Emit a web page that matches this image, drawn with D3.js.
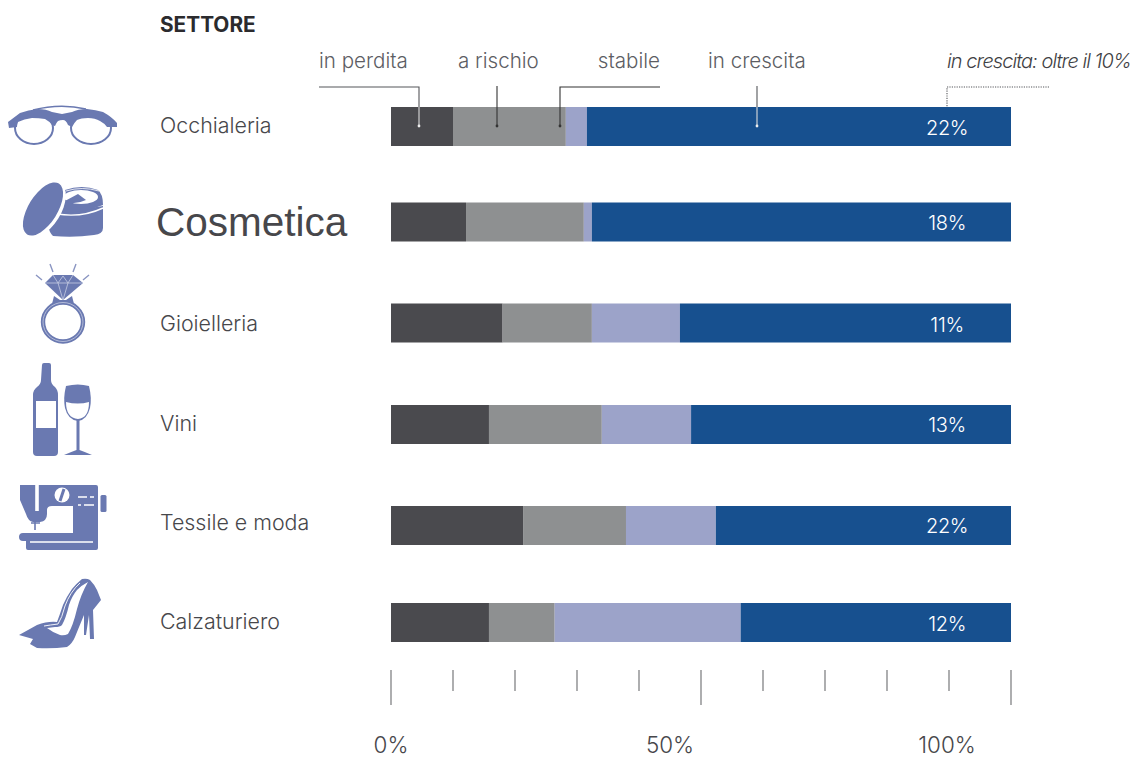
<!DOCTYPE html>
<html lang="it">
  <head>
    <meta charset="UTF-8" />
    <title>Settore</title>
    <script src="https://d3js.org/d3.v7.min.js"></script>
    <style>
      body {
        margin: 0;
        background: #fff;
      }
      text {
        font-family: Inter, Roboto, sans-serif;
        fill: #47474b;
      }
      .leader {
        fill: none;
        stroke: #55565a;
        stroke-width: 1.1px;
      }
      .icon {
        fill: #6a79b1;
      }
      .icon-cut {
        fill: #fff;
      }
      .icon-line {
        fill: none;
        stroke: #6a79b1;
      }
      .icon-white {
        fill: none;
        stroke: #fff;
      }
    </style>
  </head>

  <body>
    <svg id="chart" width="1135" height="757"></svg>
    <script>
      const sectors = ["Occhialeria", "Cosmetica", "Gioielleria", "Vini", "Tessile e moda", "Calzaturiero"];
      const statuses = ["in perdita", "a rischio", "stabile", "in crescita"];
      const inPerdita = [10, 12.1, 18, 15.8, 21.3, 15.8];
      const aRischio = [18.2, 19, 14.4, 18.2, 16.6, 10.6];
      const stabile = [3.4, 1.3, 14.2, 14.4, 14.5, 30];
      const inCrescita = [68.4, 67.6, 53.4, 51.6, 47.6, 43.6];
      const oltreDieci = ["22%", "18%", "11%", "13%", "22%", "12%"];
      const tickValues = [0, 10, 20, 30, 40, 50, 60, 70, 80, 90, 100];
      const tickLabels = ["0%", "50%", "100%"];

      const svg = d3.select("#chart");

      const xScale = d3.scaleLinear().domain([0, 100]).range([391, 1011]);

      // rows are not evenly spaced in the original
      const rowScale = d3
        .scaleOrdinal()
        .domain(sectors)
        .range([126.5, 222, 323, 424.5, 525.5, 622.5]);

      // labels drift a little from their bars
      const labelRowScale = d3
        .scaleOrdinal()
        .domain(sectors)
        .range([127, 221, 325, 425, 523.5, 623]);

      const valueRowScale = d3
        .scaleOrdinal()
        .domain(sectors)
        .range([127.5, 223, 325, 424.5, 526, 623.5]);

      // the axis labels sit off their ticks in the original
      const tickLabelScale = d3
        .scaleOrdinal()
        .domain(tickLabels)
        .range([391, 670, 947]);

      const colorScale = d3
        .scaleOrdinal()
        .domain(statuses)
        .range(["#4a4a4e", "#8e9091", "#9ca3c9", "#17508f"]);

      const barHeight = 39;

      const rows = sectors.map((sector, i) => {
        const values = [inPerdita[i], aRischio[i], stabile[i], inCrescita[i]];
        let start = 0;
        return {
          sector: sector,
          segments: values.map((v, j) => {
            const seg = { status: statuses[j], start: start, end: start + v };
            start += v;
            return seg;
          }),
        };
      });

      // bars
      svg
        .append("g")
        .selectAll("g")
        .data(rows)
        .enter()
        .append("g")
        .selectAll("rect")
        .data((d) => d.segments.map((s) => ({ ...s, sector: d.sector })))
        .enter()
        .append("rect")
        .attr("x", (d) => xScale(d.start))
        .attr("y", (d) => rowScale(d.sector) - barHeight / 2)
        .attr("width", (d) => xScale(d.end) - xScale(d.start))
        .attr("height", barHeight)
        .attr("fill", (d) => colorScale(d.status));

      // sector labels, Cosmetica was pasted over in another font
      svg
        .append("g")
        .selectAll("text")
        .data(sectors)
        .enter()
        .append("text")
        .attr("x", (d) => (d === "Cosmetica" ? 156 : 160))
        .attr("y", (d) => labelRowScale(d))
        .attr("dy", (d) => (d === "Cosmetica" ? "0.36em" : "0.3em"))
        .style("font-size", (d) => (d === "Cosmetica" ? "40.5px" : "21.4px"))
        .style("font-family", (d) => (d === "Cosmetica" ? "'Liberation Sans'" : null))
        .style("font-weight", 300)
        .text((d) => d);

      svg
        .append("text")
        .attr("x", 160)
        .attr("y", 32)
        .style("font-size", "20.8px")
        .style("font-weight", 700)
        .style("fill", "#2b2b2e")
        .text("SETTORE");

      // values inside the blue segment
      svg
        .append("g")
        .selectAll("text")
        .data(oltreDieci)
        .enter()
        .append("text")
        .attr("x", xScale(89.7))
        .attr("y", (d, i) => valueRowScale(sectors[i]))
        .attr("dy", "0.36em")
        .attr("text-anchor", "middle")
        .style("font-size", "20px")
        .style("font-weight", 300)
        .style("letter-spacing", "-0.3px")
        .style("fill", "#fff")
        .text((d) => d);

      // legend on top of the first bar
      const legendX = d3
        .scaleOrdinal()
        .domain(statuses)
        .range([319, 458, 660, 708]);

      svg
        .append("g")
        .selectAll("text")
        .data(statuses)
        .enter()
        .append("text")
        .attr("x", (d) => legendX(d))
        .attr("y", 68)
        .attr("text-anchor", (d) => (d === "stabile" ? "end" : "start"))
        .style("font-size", "20.6px")
        .style("font-weight", 300)
        .style("fill", "#5c5d63")
        .text((d) => d);

      const leaders = svg.append("g").attr("class", "leaders");
      leaders.append("path").attr("class", "leader").attr("d", "M319,87H419V107");
      leaders.append("path").attr("class", "leader").attr("d", "M419,107V126").style("stroke", "#ddd");
      leaders.append("path").attr("class", "leader").attr("d", "M497,86V126").style("stroke", "#333");
      leaders.append("path").attr("class", "leader").attr("d", "M660,87H560V126").style("stroke", "#333");
      leaders.append("path").attr("class", "leader").attr("d", "M757,86V107");
      leaders.append("path").attr("class", "leader").attr("d", "M757,107V126").style("stroke", "#ddd");
      leaders
        .append("path")
        .attr("class", "leader")
        .attr("d", "M1049,87H947V107")
        .style("stroke-dasharray", "1.2 1.2");
      leaders
        .selectAll("circle")
        .data([[419, "#eee"], [497, "#333"], [560, "#333"], [757, "#eee"]])
        .enter()
        .append("circle")
        .attr("cx", (d) => d[0])
        .attr("cy", 126)
        .attr("r", 1.4)
        .attr("fill", (d) => d[1]);

      svg
        .append("text")
        .attr("x", 947)
        .attr("y", 68)
        .style("font-size", "20px")
        .style("font-weight", 300)
        .style("font-style", "italic")
        .style("letter-spacing", "-0.95px")
        .style("fill", "#3f3f44")
        .text("in crescita: oltre il 10%");

      // axis ticks
      svg
        .append("g")
        .selectAll("line")
        .data(tickValues)
        .enter()
        .append("line")
        .attr("x1", (d) => xScale(d))
        .attr("x2", (d) => xScale(d))
        .attr("y1", 670)
        .attr("y2", (d) => (d % 50 === 0 ? 705 : 691))
        .attr("stroke", "#77787b")
        .attr("stroke-width", 1.2);

      svg
        .append("g")
        .selectAll("text")
        .data(tickLabels)
        .enter()
        .append("text")
        .attr("x", (d) => tickLabelScale(d))
        .attr("y", 753)
        .attr("text-anchor", "middle")
        .style("font-size", "22.4px")
        .style("font-weight", 300)
        .text((d) => d);

      // icons
      const icons = svg.append("g");

      // glasses
      icons.append("ellipse").attr("class", "icon-line").attr("cx", 34).attr("cy", 128).attr("rx", 19).attr("ry", 16).attr("stroke-width", 2);
      icons.append("ellipse").attr("class", "icon-line").attr("cx", 91).attr("cy", 128).attr("rx", 20).attr("ry", 16).attr("stroke-width", 2);
      icons
        .append("path")
        .attr("class", "icon")
        .attr(
          "d",
          "M8,122L20,113Q28,110 38,109Q46,109 52,112L62,114L72,112Q78,109 87,109Q96,110 103,112Q112,117 117,123V127H107Q104,123 100,121Q95,118 88,118Q81,118 77,120Q74,123 72,127L68,125Q66,120 63,120Q60,120 58,121Q56,123 55,126L52,125Q49,121 45,119Q39,118 32,118Q24,119 18,122Q17,125 17,127L9,128Z"
        );
      icons.append("path").attr("class", "icon-line").attr("d", "M33,110Q60,103 86,109").attr("stroke-width", 1.5);

      // cosmetic jar
      icons.append("path").attr("class", "icon").attr("d", "M50,214L103,206V228Q103,234 94,235Q74,238 53,236Q46,230 50,214Z");
      icons.append("path").attr("class", "icon").attr("d", "M65,190Q82,184 98,190Q103,194 103,205Q84,213 60,213Z");
      icons.append("ellipse").attr("class", "icon-cut").attr("cx", 81).attr("cy", 197).attr("rx", 17).attr("ry", 7);
      icons.append("path").attr("class", "icon").attr("d", "M63,202L78,194L86,200Q76,205 63,202Z");
      icons.append("path").attr("class", "icon-white").attr("d", "M57,214Q82,218 103,208").attr("stroke-width", 1.4);
      icons.append("path").attr("class", "icon-white").attr("d", "M66,191Q82,186 99,191").attr("stroke-width", 0.8);
      icons.append("ellipse").attr("class", "icon-cut").attr("cx", 43).attr("cy", 209).attr("rx", 18).attr("ry", 32).attr("transform", "rotate(32 43 209)");
      icons.append("ellipse").attr("class", "icon").attr("cx", 43).attr("cy", 209).attr("rx", 14.5).attr("ry", 30).attr("transform", "rotate(32 43 209)");

      // ring
      icons.append("path").attr("class", "icon").attr("d", "M53,275H73L83,283L63,300L45,283Z");
      icons.append("path").attr("class", "icon-white").attr("d", "M45,283H83M53,275L58,283L63,300L68,283L73,275M58,283L63,276L68,283").style("stroke", "#c5cbe2").attr("stroke-width", 0.8);
      icons.append("path").attr("class", "icon-line").attr("d", "M50,264L53,272M76,264L73,272M36,275L42,280M89,275L83,280").attr("stroke-width", 1.4).style("stroke", "#8a95c2");
      icons.append("path").attr("class", "icon").attr("d", "M54,296L60,300H66L72,296L74,304H52Z");
      icons.append("ellipse").attr("class", "icon-line").attr("cx", 63).attr("cy", 322).attr("rx", 20).attr("ry", 19.5).attr("stroke-width", 4.4);
      icons.append("ellipse").attr("class", "icon-white").attr("cx", 63).attr("cy", 322).attr("rx", 20).attr("ry", 19.5).style("stroke", "#c5cbe2").attr("stroke-width", 0.8);

      // bottle and glass
      icons
        .append("path")
        .attr("class", "icon")
        .attr("d", "M42,365Q42,363 44,363H49Q51,363 51,365V380Q51,384 55,387Q58,390 58,395V452Q58,456 54,456H37Q33,456 33,452V395Q33,390 37,387Q41,384 41,380Z");
      icons.append("rect").attr("class", "icon-cut").attr("x", 36).attr("y", 401).attr("width", 20).attr("height", 27);
      icons.append("path").attr("class", "icon").attr("d", "M66,386Q78,383 89,386Q92,398 90,408Q87,420 78,421Q68,420 65,408Q63,398 66,386Z");
      icons.append("path").attr("class", "icon-cut").attr("d", "M66,402Q78,405 89,402Q89,418 78,419Q66,418 66,402Z");
      icons.append("path").attr("class", "icon").attr("d", "M76.5,420H79.5V450Q85,452 92,455H64Q71,452 76.5,450Z");

      // sewing machine
      icons
        .append("path")
        .attr("class", "icon")
        .attr(
          "d",
          "M20,485H96Q98,485 98,487V548Q98,550 96,550H28Q26,550 26,548V541H23Q19,541 19,537Q19,533 23,533H73V506H52Q47,506 47,510V514Q47,521 40,522H33Q28,521 26,514L20,500Z"
        );
      icons.append("rect").attr("class", "icon").attr("x", 100.5).attr("y", 495).attr("width", 6).attr("height", 17).attr("rx", 1.5);
      icons.append("path").attr("class", "icon-white").attr("d", "M37,485V511").attr("stroke-width", 3.6);
      icons.append("path").attr("class", "icon-line").attr("d", "M35,520V530M31,523H40").attr("stroke-width", 1.6);
      icons.append("circle").attr("class", "icon-cut").attr("cx", 62).attr("cy", 495).attr("r", 7.5);
      icons.append("path").attr("class", "icon-line").attr("d", "M60,501L64,489").attr("stroke-width", 3);
      icons.append("path").attr("class", "icon-white").attr("d", "M78,497H87M90,497H94M78,505H81M84,505H94M30,542H93").attr("stroke-width", 1.6);

      // shoes
      icons
        .append("path")
        .attr("class", "icon")
        .attr(
          "d",
          "M19,635L37,625Q48,621 57,622Q60,614 63,605Q67,596 72,589Q77,583 82,579Q87,578 90,580Q94,584 97,590L101,600L93,610L94,639H90L89,615L86,635H84L84,615Q79,627 75,637Q72,644 67,647Q52,649 37,648L30,644L33,639Z"
        );
      icons.append("path").attr("class", "icon-cut").attr("d", "M88,582Q81,594 77,609Q73,626 68,634Q64,636 60,635Q52,632 47,628L55,627Q60,627 62,625Q66,618 69,605Q72,596 77,590Q82,585 88,582Z");
      icons.append("path").attr("class", "icon-white").attr("d", "M80,583Q70,592 65,606Q62,618 58,624Q50,625 44,626").attr("stroke-width", 0.9);
    </script>
  </body>
</html>
